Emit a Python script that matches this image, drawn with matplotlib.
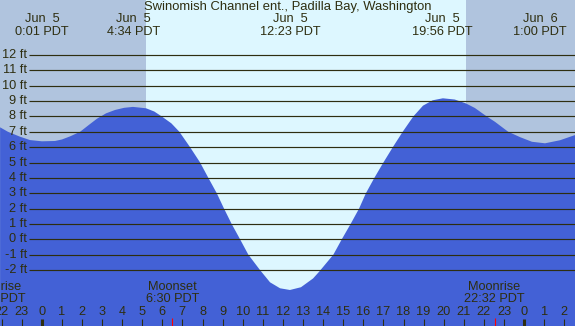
import numpy as np
import matplotlib.pyplot as plt
import matplotlib.transforms as mtransforms

plt.rcParams['font.family'] = ['Liberation Sans', 'DejaVu Sans']

# Tide height (ft), hours after midnight Jun 5 (PDT)
hours = [-2.07, -1.68, -1.08, -0.58, 0.01, 0.66, 1.01, 1.41, 1.91, 2.35, 2.75,
         3.2, 3.65, 4.1, 4.54, 5.19, 5.6, 5.97, 6.45, 6.85, 7.38, 7.88, 8.29,
         8.71, 9.07, 9.45, 9.87, 10.28, 10.86, 11.36, 11.86, 12.35, 12.9, 13.5,
         13.81, 14.51, 14.93, 15.37, 15.79, 16.13, 16.55, 17.0, 17.47,
         17.96, 18.49, 18.97, 19.45, 19.96, 20.55, 21.1, 21.55, 22.14, 22.55,
         23.21, 23.8, 24.39, 25.04, 25.79, 26.54]
heights = [7.29, 7.0, 6.68, 6.46, 6.38, 6.4, 6.5, 6.7, 7.0, 7.45, 7.85,
           8.2, 8.42, 8.56, 8.62, 8.53, 8.32, 8.0, 7.55, 7.0, 6.0, 5.0, 4.0,
           3.0, 2.0, 1.0, 0.0, -1.0, -2.0, -2.8, -3.19, -3.3, -3.12, -2.55,
           -2.1, -1.0, 0.0, 1.0, 2.0, 3.0, 4.0, 5.0, 6.0,
           7.0, 8.0, 8.7, 9.05, 9.18, 9.1, 8.85, 8.55, 8.0, 7.65,
           7.0, 6.65, 6.35, 6.25, 6.45, 6.79]

# high / low tide labels along the top
ext_hours = [0 + 1/60, 4 + 34/60, 12 + 23/60, 19 + 56/60, 24 + 47/60]
ext_dates = ['Jun  5', 'Jun  5', 'Jun  5', 'Jun  5', 'Jun  6']
ext_times = ['0:01 PDT', '4:34 PDT', '12:23 PDT', '19:56 PDT', '1:00 PDT']

sunrise = 5 + 11/60
sunset = 21 + 6/60

moon_hours = [-2 - 19/60, 6 + 30/60, 22 + 32/60]
moon_names = ['Moonrise', 'Moonset', 'Moonrise']
moon_times = ['21:41 PDT', '6:30 PDT', '22:32 PDT']

levels = list(range(-2, 13))
hour_ticks = list(range(-2, 27))

# pixel geometry of the reference
W, H = 575, 326
X0, PX_HR = 41.7, 20.1     # x pixel of midnight, pixels per hour
Y0, PX_FT = 239.3, 15.36   # y pixel of 0 ft, pixels per foot

night = '#b0c4de'
day = '#ddf7ff'
water = '#4361d6'
ink = '#2e2e10'
fs = 9.2

fig = plt.figure(figsize=(W / 100, H / 100), dpi=100)
fig.patch.set_facecolor(night)
ax = fig.add_axes([0, 0, 1, 1])
ax.axis('off')
ax.set_xlim(-X0 / PX_HR, (W - X0) / PX_HR)
ymin, ymax = (Y0 - H) / PX_FT, Y0 / PX_FT
ax.set_ylim(ymin, ymax)

ax.axvspan(sunrise, sunset, color=day, lw=0, zorder=0)
ax.fill_between(hours, heights, ymin, color=water, lw=0, zorder=1)

# gridlines + labels
ax.hlines(levels, (29 - X0) / PX_HR, (W - X0) / PX_HR, color=ink, lw=0.85, zorder=2)
ylab = mtransforms.blended_transform_factory(fig.transFigure, ax.transData)
for lv in levels:
    ax.text(27 / W, lv, f'{lv} ft', transform=ylab, ha='right', va='center',
            fontsize=fs, color=ink)

top = mtransforms.blended_transform_factory(ax.transData, fig.transFigure)
fig.text(0.5, 1 - 7 / H, 'Swinomish Channel ent., Padilla Bay, Washington',
         ha='center', va='center', fontsize=9.4, color=ink)
for hx, d, t in zip(ext_hours, ext_dates, ext_times):
    ax.text(hx, 1 - 19 / H, d, transform=top, ha='center', va='center',
            fontsize=fs, color=ink)
    ax.text(hx, 1 - 32 / H, t, transform=top, ha='center', va='center',
            fontsize=fs, color=ink)

for hx, n, t in zip(moon_hours, moon_names, moon_times):
    ax.text(hx, 1 - 287.5 / H, n, transform=top, ha='center', va='center',
            fontsize=fs, color=ink)
    ax.text(hx, 1 - 299.5 / H, t, transform=top, ha='center', va='center',
            fontsize=fs, color=ink)

# hour axis at the bottom
for h in hour_ticks:
    ax.text(h, 1 - 312 / H, str(h % 24), transform=top, ha='center',
            va='center', fontsize=fs, color=ink)
xt = ax.get_xaxis_transform()
reg = [h for h in hour_ticks if h % 24 != 0]
mid = [h for h in hour_ticks if h % 24 == 0]
ax.vlines(reg, 0, 7 / H, transform=xt, color=ink, lw=0.8, zorder=3)
ax.vlines(mid, 0, 7 / H, transform=xt, color=ink, lw=2.2, zorder=3)
ax.vlines(moon_hours, 0, 8 / H, transform=xt, color='red', lw=0.8, zorder=4)

fig.savefig('out.png', dpi=100, facecolor=night)
